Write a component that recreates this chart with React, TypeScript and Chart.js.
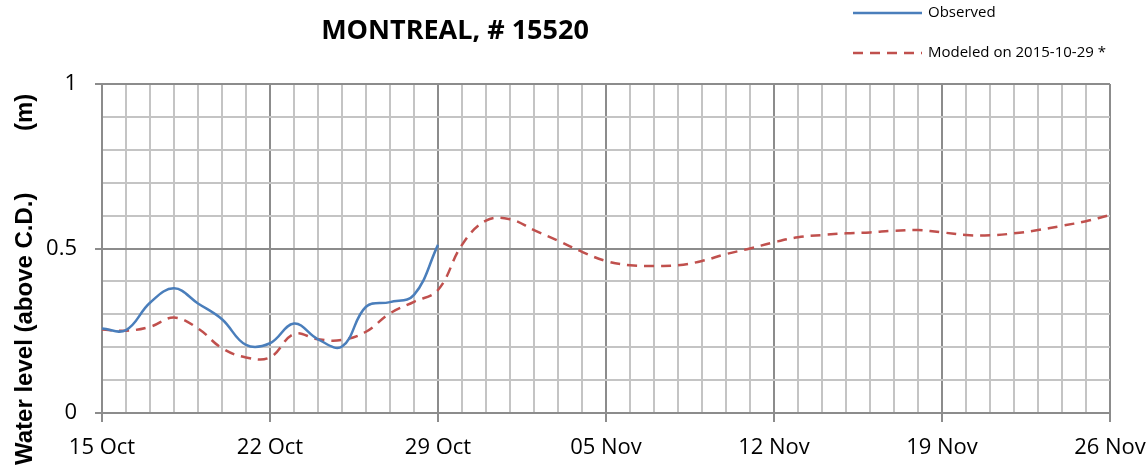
import React, { useEffect, useRef } from 'react';
import { Chart, registerables } from 'chart.js';

Chart.register(...registerables);

const chartTitle = 'MONTREAL, # 15520';
const yAxisTitle = 'Water level (above C.D.)';
const yAxisUnit = '(m)';
const seriesNames = ['Observed', 'Modeled on 2015-10-29 *'];
const weekTickLabels = ['15 Oct', '22 Oct', '29 Oct', '05 Nov', '12 Nov', '19 Nov', '26 Nov'];
const yTickLabels = ['0', '0.5', '1'];

// daily values starting 15 Oct
const observed = [0.257, 0.252, 0.335, 0.379, 0.333, 0.285, 0.207, 0.212, 0.272, 0.224, 0.202, 0.323, 0.337, 0.359, 0.511];
const modeled = [
  0.254, 0.25, 0.262, 0.29, 0.257, 0.197, 0.169, 0.169, 0.24, 0.224, 0.222, 0.247, 0.303, 0.338, 0.374,
  0.511, 0.585, 0.589, 0.556, 0.524, 0.49, 0.462, 0.449, 0.447, 0.449, 0.462, 0.483, 0.5, 0.519,
  0.534, 0.541, 0.546, 0.549, 0.554, 0.556, 0.549, 0.541, 0.54, 0.546, 0.556, 0.569, 0.583, 0.602,
];

const BLUE = '#4a7ebb';
const RED = '#c0504d';

const overlayPlugin = {
  id: 'overlayText',
  afterDraw(chart: any) {
    const ctx = chart.ctx;
    ctx.save();
    // Title
    ctx.fillStyle = '#000';
    ctx.font = 'bold 27px "Open Sans"';
    ctx.textAlign = 'center';
    ctx.textBaseline = 'alphabetic';
    ctx.fillText(chartTitle, 455, 39);

    // Legend
    ctx.font = '15px "Open Sans"';
    ctx.textAlign = 'left';
    ctx.textBaseline = 'middle';
    const rows = [
      { y: 13, color: BLUE, dash: [] as number[] },
      { y: 53, color: RED, dash: [10, 7] },
    ];
    rows.forEach((r, i) => {
      ctx.beginPath();
      ctx.strokeStyle = r.color;
      ctx.lineWidth = 2.5;
      ctx.setLineDash(r.dash);
      ctx.moveTo(853, r.y);
      ctx.lineTo(922, r.y);
      ctx.stroke();
      ctx.setLineDash([]);
      ctx.fillStyle = '#000';
      ctx.fillText(seriesNames[i], 928, r.y);
    });

    // Y axis title (rotated)
    ctx.font = 'bold 24px "Liberation Sans"';
    ctx.translate(32, 465);
    ctx.rotate(-Math.PI / 2);
    ctx.textAlign = 'left';
    ctx.textBaseline = 'alphabetic';
    ctx.fillText(yAxisTitle, 0, 0);
    ctx.fillText(yAxisUnit, 465 - 131, 0);
    ctx.restore();
  },
};

export default function App() {
  const canvasRef = useRef<HTMLCanvasElement | null>(null);

  useEffect(() => {
    document.body.style.margin = '0';
    const canvas = canvasRef.current;
    if (!canvas) return;

    const chart = new Chart(canvas, {
      type: 'line',
      data: {
        datasets: [
          {
            label: seriesNames[0],
            data: observed.map((y, i) => ({ x: i, y })),
            borderColor: BLUE,
            backgroundColor: BLUE,
            borderWidth: 2.5,
            pointRadius: 0,
            tension: 0.4,
            fill: false,
          },
          {
            label: seriesNames[1],
            data: modeled.map((y, i) => ({ x: i, y })),
            borderColor: RED,
            backgroundColor: RED,
            borderWidth: 2.5,
            borderDash: [10, 7],
            pointRadius: 0,
            tension: 0.4,
            fill: false,
          },
        ],
      },
      options: {
        responsive: false,
        animation: false,
        layout: { padding: { top: 84, right: 38, bottom: 0, left: 0 } },
        plugins: {
          legend: { display: false },
          title: { display: false },
          tooltip: { enabled: false },
        },
        scales: {
          x: {
            type: 'linear',
            min: 0,
            max: modeled.length - 1,
            afterFit: (scale: any) => {
              scale.height = 56;
              scale.paddingLeft = 0;
              scale.paddingRight = 0;
            },
            ticks: {
              stepSize: 1,
              autoSkip: false,
              maxRotation: 0,
              minRotation: 0,
              padding: 13,
              color: '#000',
              font: { family: '"Open Sans"', size: 22 },
              callback: (v: any) => {
                const n = Math.round(Number(v));
                return n % 7 === 0 ? weekTickLabels[n / 7] : '';
              },
            },
            grid: {
              lineWidth: 2,
              tickLength: 9,
              color: (c: any) => (Math.round(c.tick.value) % 7 === 0 ? '#8c8c8c' : '#c4c4c4'),
              tickColor: (c: any) => (Math.round(c.tick.value) % 7 === 0 ? '#8c8c8c' : 'rgba(0,0,0,0)'),
            },
            border: { display: true, color: '#8c8c8c', width: 2 },
          },
          y: {
            min: 0,
            max: 1,
            afterFit: (scale: any) => {
              scale.width = 102;
              scale.paddingTop = 0;
              scale.paddingBottom = 0;
            },
            ticks: {
              stepSize: 0.1,
              padding: 18,
              color: '#000',
              font: { family: '"Open Sans"', size: 22 },
              callback: (v: any) => {
                const k = Math.round(Number(v) * 10);
                return k % 5 === 0 ? yTickLabels[k / 5] : '';
              },
            },
            grid: {
              lineWidth: 2,
              tickLength: 7,
              color: (c: any) => (Math.round(c.tick.value * 10) % 5 === 0 ? '#8c8c8c' : '#c4c4c4'),
              tickColor: (c: any) => (Math.round(c.tick.value * 10) % 5 === 0 ? '#8c8c8c' : 'rgba(0,0,0,0)'),
            },
            border: { display: true, color: '#8c8c8c', width: 2 },
          },
        },
      },
      plugins: [overlayPlugin],
    });

    return () => chart.destroy();
  }, []);

  return (
    <div style={{ width: 1148, height: 469 }}>
      <canvas ref={canvasRef} width={1148} height={469} style={{ display: 'block' }} />
    </div>
  );
}
